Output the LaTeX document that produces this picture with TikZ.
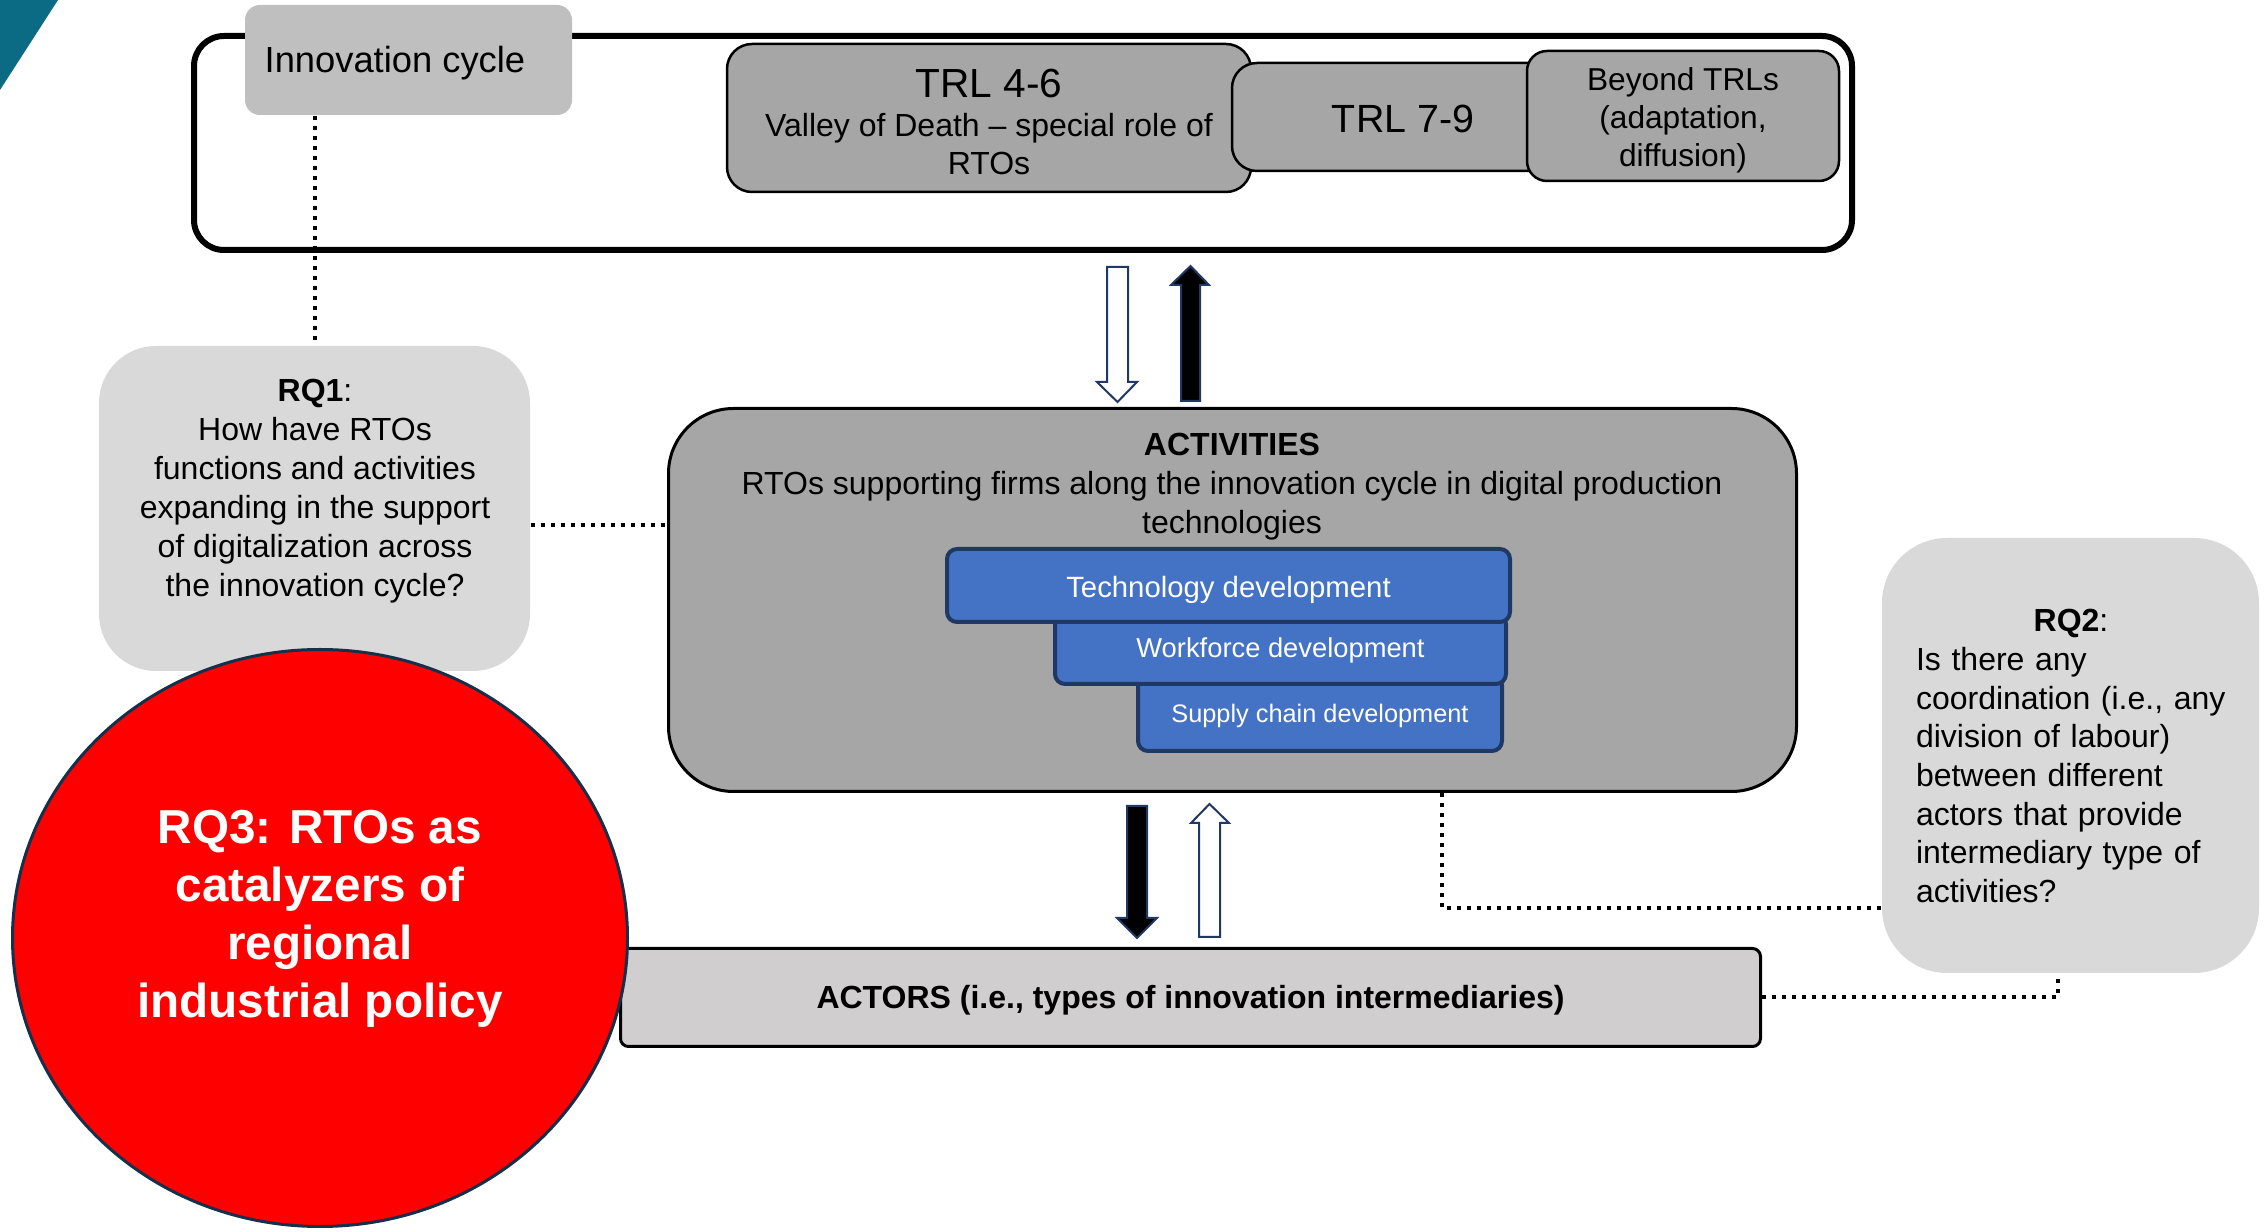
\documentclass[tikz,border=0pt]{standalone}
\usepackage{fontspec}
\setmainfont{Liberation Sans}
\usetikzlibrary{calc,shapes.geometric}
\newdimen\pxu \pxu=0.3pt
\newcommand\setfs[2]{\fontsize{#1}{#2}\selectfont}
\definecolor{tealc}{HTML}{0B6A84}
\definecolor{cyclegray}{HTML}{BFBFBF}
\definecolor{trlgray}{HTML}{A6A6A6}
\definecolor{rqgray}{HTML}{D9D9D9}
\definecolor{actorgray}{HTML}{D0CECE}
\definecolor{actblue}{HTML}{4472C4}
\definecolor{navy}{HTML}{1F3864}
\definecolor{rqred}{HTML}{FF0000}
\definecolor{ringnavy}{HTML}{14304A}
\begin{document}
\begin{tikzpicture}[x=0.3pt,y=-0.3pt,
  box/.style={rectangle, inner sep=0pt, align=center},
  trlbox/.style={box, draw=black, fill=trlgray, line width=2.5\pxu, rounded corners=25\pxu},
  bluebox/.style={box, draw=navy, fill=actblue, line width=4\pxu, rounded corners=10\pxu},
  bluetext/.style={box, text=white},
  rqbox/.style={box, fill=rqgray, draw=none},
  dotline/.style={line width=4\pxu, dash pattern=on 4\pxu off 6\pxu},
  blockarrow/.style={draw=navy, line width=2\pxu, line join=miter},
]
\useasboundingbox (0,0) rectangle (2267,1232);

% corner accent
\fill[tealc] (0,0) -- (58,0) -- (0,90) -- cycle;

% innovation cycle frame with the TRL stages
\node[draw=black, line width=6\pxu, rounded corners=30\pxu, minimum width=1658\pxu,
      minimum height=214\pxu, inner sep=0pt] (frame) at (1023,143) {};
\node[rectangle, fill=cyclegray, rounded corners=15\pxu, minimum width=327\pxu,
      minimum height=110\pxu, inner sep=0pt] (cyc) at (408.5,60) {};
\node[anchor=west, inner sep=0pt, font=\setfs{10.9}{13}] (cyctext) at (264,63) {Innovation cycle};

\node[trlbox, minimum width=524\pxu, minimum height=148\pxu] (trl46) at (989,118) {};
\node[box, font=\setfs{9.6}{11.6}] (trl46text) at (989,122)
  {{\setfs{12.2}{14.6}TRL 4-6}\\Valley of Death \textendash{} special role of\\RTOs};
\node[trlbox, minimum width=342\pxu, minimum height=108\pxu, font=\setfs{11.8}{14}] (trl79) at (1403,117) {};
\node[box, font=\setfs{11.8}{14}] (trl79text) at (1403,119) {TRL 7-9};
\node[trlbox, rounded corners=20\pxu, minimum width=312\pxu, minimum height=130\pxu] (beyond) at (1683,116) {};
\node[box, font=\setfs{9.5}{11.4}] (beyondtext) at (1683,120)
  {Beyond TRLs\\(adaptation,\\diffusion)};

% activities
\node[box, draw=black, fill=trlgray, line width=3\pxu, rounded corners=65\pxu,
      minimum width=1128\pxu, minimum height=383\pxu] (act) at (1232.5,600) {};
\node[box, font=\setfs{9.6}{11.6}] (acttext) at (1232,486.5)
  {\textbf{ACTIVITIES}\\RTOs supporting firms along the innovation cycle in digital production\\technologies};

\node[bluebox, minimum width=364\pxu, minimum height=76\pxu] (supply) at (1320,713) {};
\node[bluetext, font=\setfs{7.6}{9}] (supplytext) at (1320,716) {Supply chain development};
\node[bluebox, minimum width=451\pxu, minimum height=70\pxu] (workforce) at (1280.5,649) {};
\node[bluetext, font=\setfs{8.2}{9.8}] (workforcetext) at (1280.5,650.5) {Workforce development};
\node[bluebox, minimum width=563\pxu, minimum height=73\pxu] (tech) at (1228.5,585.5) {};
\node[bluetext, font=\setfs{8.8}{10.5}] (techtext) at (1228.5,590) {Technology development};

% exchange arrows between the cycle, the activities and the actors
\draw[blockarrow, fill=white] (1107,267) -- (1128,267) -- (1128,382) -- (1137,382)
  -- (1117.5,402) -- (1097,382) -- (1107,382) -- cycle;
\draw[blockarrow, fill=black] (1181,401) -- (1200,401) -- (1200,285) -- (1209,285)
  -- (1190.5,266) -- (1171,285) -- (1181,285) -- cycle;
\draw[blockarrow, fill=black] (1127,806) -- (1147,806) -- (1147,918) -- (1157,918)
  -- (1137,938) -- (1117,918) -- (1127,918) -- cycle;
\draw[blockarrow, fill=white] (1199,937) -- (1220,937) -- (1220,823) -- (1229,823)
  -- (1209.5,804) -- (1191,823) -- (1199,823) -- cycle;

% actors
\node[box, draw=black, fill=actorgray, line width=3\pxu, rounded corners=8\pxu,
      minimum width=1140\pxu, minimum height=98\pxu] (actors) at (1190.5,997.5) {};
\node[box, font=\bfseries\setfs{9.6}{11.6}] (actorstext) at (1190.5,1000.5)
  {ACTORS (i.e., types of innovation intermediaries)};

% research questions
\node[rqbox, rounded corners=57\pxu, minimum width=431\pxu, minimum height=325\pxu] (rq1) at (314.5,508.5) {};
\node[box, font=\setfs{9.6}{11.7}] (rq1text) at (315,491.5)
  {\textbf{RQ1}:\\How have RTOs\\functions and activities\\expanding in the support\\of digitalization across\\the innovation cycle?};

\node[rqbox, rounded corners=65\pxu, minimum width=377\pxu, minimum height=435\pxu] (rq2) at (2070.5,755.5) {};
\node[rectangle, inner sep=0pt, text width=310\pxu, align=left, font=\setfs{9.6}{11.6}] (rq2text) at (2071,756)
  {\makebox[310\pxu]{\textbf{RQ2}:}\\Is there any\\coordination (i.e., any\\division of labour)\\between different\\actors that provide\\intermediary type of\\activities?};

\node[ellipse, draw=ringnavy, fill=rqred, line width=3\pxu, inner sep=0pt,
      minimum width=615\pxu, minimum height=577\pxu] (rq3) at (320,938) {};
\node[box, text=white, font=\bfseries\setfs{14.3}{17.4}] (rq3text) at (320,918.5)
  {RQ3: RTOs as\\catalyzers of\\regional\\industrial policy};

% dotted links to the research questions
\draw[dotline] (rq1.north |- cyc.south) -- (rq1.north);
\coordinate (q1) at ($(rq1.east)+(0,17)$);
\draw[dotline] (q1) -- (q1 -| act.west);
\coordinate (q2) at ($(act.south)+(209.5,0)$);
\draw[dotline] (q2) |- ($(rq2.west)+(0,152.5)$);
\draw[dotline] (actors.east) -| ($(rq2.south)+(-13,0)$);
\end{tikzpicture}
\end{document}
